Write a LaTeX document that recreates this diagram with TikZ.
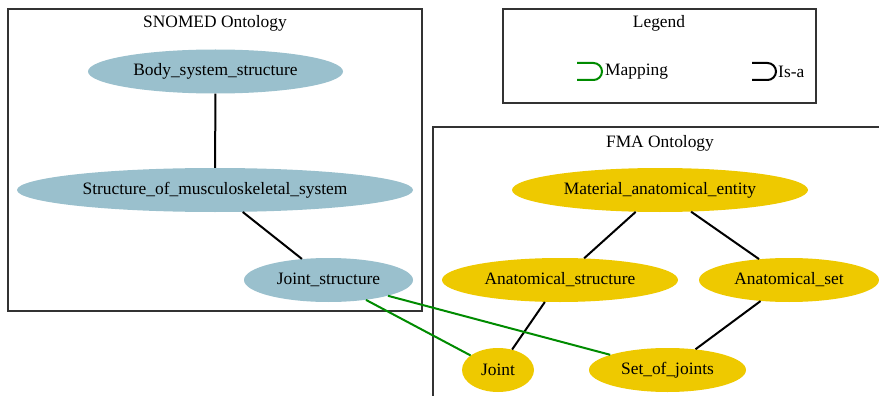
\documentclass[tikz,border=0pt]{standalone}
\usepackage{fontspec}
\setmainfont{Liberation Serif}
\usetikzlibrary{shapes.geometric}

\definecolor{snomedblue}{RGB}{154,192,205}
\definecolor{fmagold}{RGB}{238,201,0}
\definecolor{mapgreen}{RGB}{0,139,0}

\begin{document}
\begin{tikzpicture}[x=1pt,y=-1pt,
	every node/.style={font=\fontsize{17.4}{20}\selectfont, inner sep=0pt},
	snomed/.style={ellipse, fill=snomedblue, minimum height=44pt},
	fma/.style={ellipse, fill=fmagold, minimum height=44pt},
	isa/.style={line width=2pt, black},
	mapping/.style={line width=2pt, mapgreen},
	cluster/.style={draw=black!80, line width=1.1pt}]
			\useasboundingbox (0,0) rectangle (879,396);
			\clip (0,0) rectangle (879,396);

			\draw[cluster] (8,9) rectangle (422,311);
			\node (snotitle) at (215,23) {SNOMED Ontology};
			\node[snomed, minimum width=255pt] (body) at (215.5,71.5) {Body\_system\_structure};
			\node[snomed, minimum width=396pt] (musc) at (215,190) {Structure\_of\_musculoskeletal\_system};
			\node[snomed, minimum width=169pt] (jstruct) at (328.5,280) {Joint\_structure};

			\draw[cluster] (503,9) rectangle (816,103);
			\node (legtitle) at (659,23) {Legend};
			\node[anchor=west] (legmap) at (605,71.5) {Mapping};
			\node[anchor=west] (legisa) at (778,71.5) {Is-a};
			\draw[mapping] (577,63) -- (593.5,63) arc[start angle=-90, end angle=90, radius=8.5] -- (577,80);
			\draw[isa] (752,63) -- (767.5,63) arc[start angle=-90, end angle=90, radius=8.5] -- (752,80);

			\draw[cluster] (433,127) rectangle (900,420);
			\node (fmatitle) at (660,143) {FMA Ontology};
			\node[fma, minimum width=296pt] (material) at (660,190) {Material\_anatomical\_entity};
			\node[fma, minimum width=236pt] (anastruct) at (560,280) {Anatomical\_structure};
			\node[fma, minimum width=180pt] (anaset) at (789,280) {Anatomical\_set};
			\node[fma, minimum width=72pt] (joint) at (498,370) {Joint};
			\node[fma, minimum width=157pt] (setjoints) at (667.5,370) {Set\_of\_joints};

			\draw[isa] (body) -- (musc);
			\draw[isa] (musc) -- (jstruct);
			\draw[isa] (material) -- (anastruct);
			\draw[isa] (material) -- (anaset);
			\draw[isa] (anastruct) -- (joint);
			\draw[isa] (anaset) -- (setjoints);

			\draw[mapping] (jstruct) -- (joint);
			\draw[mapping] (jstruct) -- (setjoints);
		\end{tikzpicture}
\end{document}
